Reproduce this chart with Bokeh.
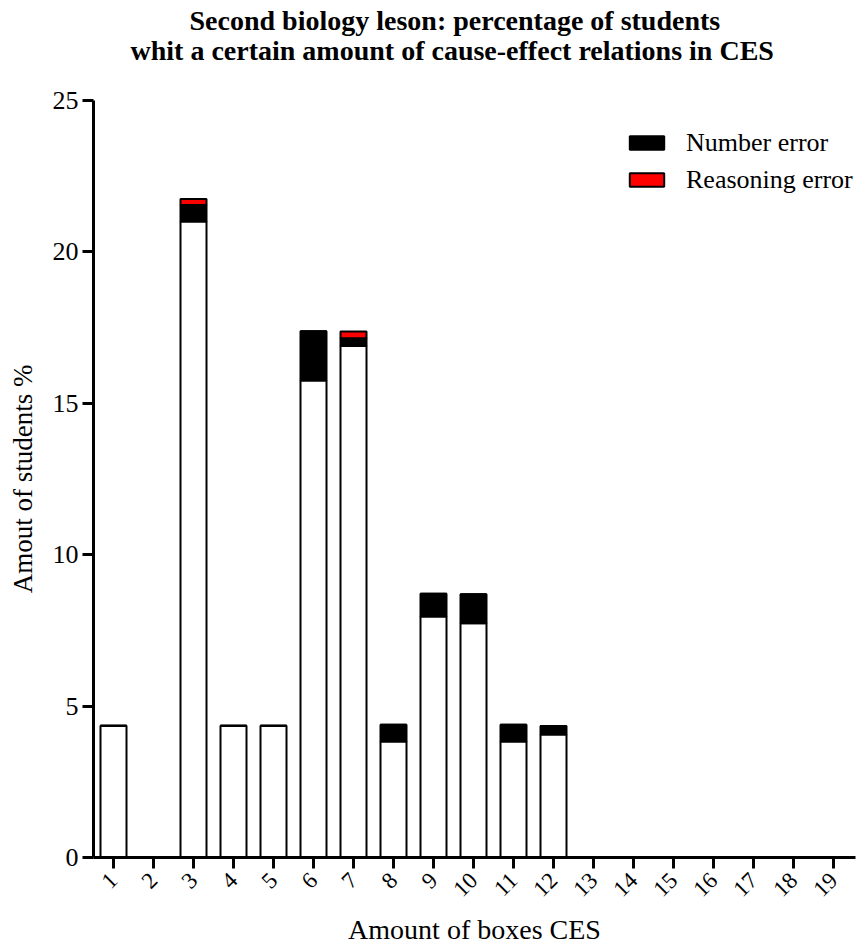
from bokeh.plotting import figure
from bokeh.models import Range1d, FixedTicker, Title, Legend, LegendItem
from bokeh.embed import file_html
from bokeh.resources import INLINE
import math

# ---- data ----
categories = list(range(1, 20))
tick_labels = [str(c) for c in categories]
correct = [4.35, 0, 21.0, 4.35, 4.35, 15.75, 16.89, 3.83, 7.96, 7.74, 3.83, 4.06, 0, 0, 0, 0, 0, 0, 0]
number_error = [0, 0, 0.55, 0, 0, 1.63, 0.26, 0.55, 0.75, 0.95, 0.55, 0.28, 0, 0, 0, 0, 0, 0, 0]
reasoning_error = [0, 0, 0.20, 0, 0, 0, 0.22, 0, 0, 0, 0, 0, 0, 0, 0, 0, 0, 0, 0]
y_ticks = [0, 5, 10, 15, 20, 25]

title_line1 = "Second biology leson: percentage of students"
title_line2 = "whit a certain amount of cause-effect relations in CES"
x_title = "Amount of boxes CES"
y_title = "Amout of students %"

FONT = "Liberation Serif"

p = figure(width=867, height=949, output_backend="svg", toolbar_location=None,
           x_range=Range1d(0.5, 19.55), y_range=Range1d(0, 25),
           min_border_left=93, min_border_right=12, min_border_top=100, min_border_bottom=92)
p.outline_line_color = None
p.xgrid.visible = False
p.ygrid.visible = False

source = dict(x=categories, correct=correct, number=number_error, reasoning=reasoning_error)
rs = p.vbar_stack(["correct", "number", "reasoning"], x="x", width=0.65, source=source,
                  fill_color=["white", "black", "red"], line_color="black", line_width=2)

legend = Legend(items=[LegendItem(label="Number error", renderers=[rs[1]]),
                       LegendItem(label="Reasoning error", renderers=[rs[2]])],
                location=(532, 662), padding=0, margin=0, border_line_color=None,
                background_fill_alpha=0, glyph_width=43, glyph_height=17,
                label_height=31, spacing=6, label_standoff=18,
                label_text_font=FONT, label_text_font_size="26px", label_text_color="black")
p.add_layout(legend, "center")

for ax in (p.xaxis[0], p.yaxis[0]):
    ax.axis_line_width = 3
    ax.axis_line_color = "black"
    ax.major_tick_line_width = 3
    ax.major_tick_line_color = "black"
    ax.major_tick_in = 0
    ax.major_tick_out = 11
    ax.minor_tick_line_color = None
    ax.major_label_text_font = FONT
    ax.major_label_text_color = "black"
    ax.axis_label_text_font = FONT
    ax.axis_label_text_font_style = "normal"
    ax.axis_label_text_color = "black"

p.xaxis.ticker = FixedTicker(ticks=categories)
p.xaxis.major_label_overrides = {c: l for c, l in zip(categories, tick_labels)}
p.xaxis.major_label_orientation = math.pi / 4
p.xaxis.major_label_text_font_size = "23px"
p.xaxis.axis_label = x_title
p.xaxis.axis_label_text_font_size = "28px"
p.xaxis.major_label_standoff = 8
p.xaxis.axis_label_standoff = 8

p.yaxis.ticker = FixedTicker(ticks=y_ticks)
p.yaxis.axis_label = y_title
p.yaxis.axis_label_text_font_size = "27px"
p.yaxis.major_label_standoff = 4
p.yaxis.major_label_text_font_size = "26px"
p.yaxis.axis_label_standoff = 12

# spacer between the title block and the plot area
p.add_layout(Title(text=" ", text_font=FONT, text_font_size="28px", standoff=3), "above")
p.add_layout(Title(text=title_line2, align="left", offset=37, text_font=FONT, text_font_size="28px",
                   text_font_style="bold", text_color="black", standoff=-3), "above")
p.add_layout(Title(text=title_line1, align="left", offset=96, text_font=FONT, text_font_size="28px",
                   text_font_style="bold", text_color="black", standoff=-3), "above")

open("out.html", "w").write(file_html(p, INLINE))
